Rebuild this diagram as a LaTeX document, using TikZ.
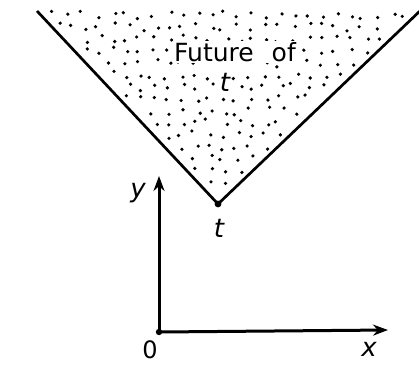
\documentclass[tikz,border=0pt]{standalone}
\usepackage{fontspec}
\setmainfont{DejaVu Sans}
\usetikzlibrary{arrows.meta, positioning}

\begin{document}
\begin{tikzpicture}[
    x=1pt, y=-1pt,
    cone/.style={line width=2.7pt, black},
    axis/.style={line width=3pt, black, -{Stealth[length=15pt, width=11pt]}},
    lbl/.style={font=\fontsize{26}{28}\selectfont\itshape, inner sep=0pt},
    txt/.style={font=\fontsize{25}{27}\selectfont, inner sep=1pt, fill=white},
    speck/.style={fill=black}
]
\useasboundingbox (0,0) rectangle (419,364);

% ---- cone points ----
\coordinate (apex)  at (218, 204);
\coordinate (leftend)  at (37, 11);
\coordinate (rightend) at (421, 10);

% ---- stippled future region ----
\pgfmathsetseed{5}
\foreach \r in {0,...,15}{
  \foreach \c in {0,...,27}{
    \pgfmathsetmacro\px{42+14*\c+5*rand}
    \pgfmathsetmacro\py{15+12*\r+4*rand}
    \pgfmathtruncatemacro\ok{((218-\px < 0.94*(204-\py)-8) && (\px-218 < 1.05*(204-\py)-8)) ? 1 : 0}
    \ifnum\ok=1 \fill[speck] (\px,\py) circle[radius=1.8pt]; \fi
  }
}

% ---- cone edges ----
\draw[cone] (leftend) -- (apex) -- (rightend);
\fill (apex) circle[radius=3.4pt];

% ---- labels in the cone ----
\node[txt] (future) at (235, 52) {Future\hspace{18pt}of};
\node[lbl, fill=white, inner sep=1pt] (tin) at (225, 82) {t};

% ---- axes ----
\coordinate (origin) at (159, 332);
\coordinate (ytip) at (159, 176);
\coordinate (xtip) at (388, 330);
\draw[axis] (origin) -- (ytip);
\draw[axis] (origin) -- (xtip);
\fill (origin) circle[radius=3.2pt];

\node[lbl] (ylbl) at (138, 193) {y};
\node[lbl] (tlbl) at (219, 228) {t};
\node[font=\fontsize{24}{26}\selectfont, inner sep=0pt] (zero) at (150, 350) {0};
\node[lbl] (xlbl) at (369, 349) {x};

\end{tikzpicture}
\end{document}
